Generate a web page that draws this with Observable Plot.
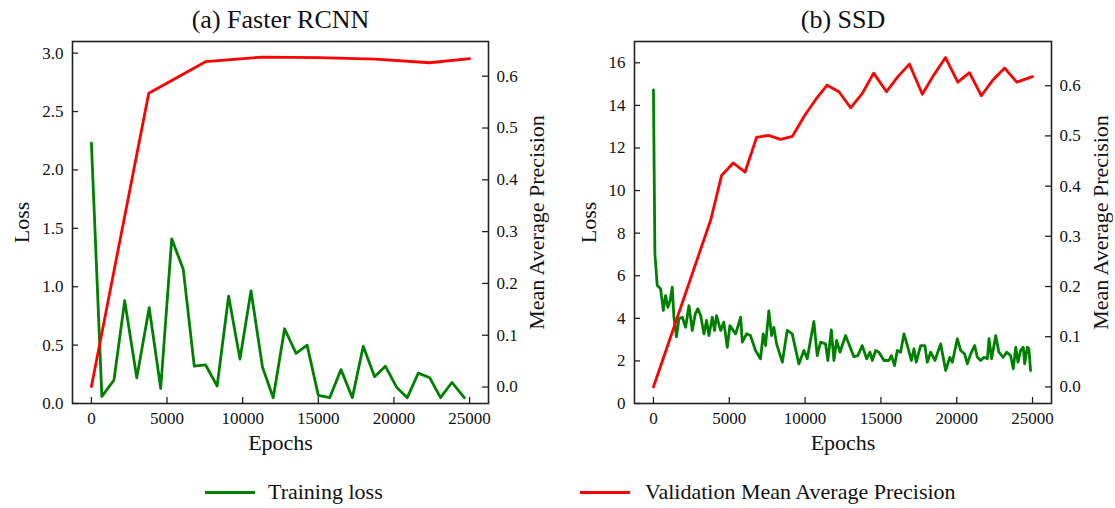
<!DOCTYPE html>
<html><head><meta charset="utf-8">
<script src="https://cdn.jsdelivr.net/npm/d3@7"></script>
<script src="https://cdn.jsdelivr.net/npm/@observablehq/plot@0.6"></script>
<style>
body{margin:0;background:#fff;width:1115px;height:508px;position:relative;overflow:hidden;font-family:"Liberation Serif","Times New Roman",serif;color:#111;}
.layer{position:absolute;top:0;}
.layer svg{font-family:"Liberation Serif","Times New Roman",serif !important;}
.sw{position:absolute;height:3px;}
.lt{position:absolute;font-size:22px;line-height:30px;height:30px;white-space:nowrap;}
</style></head><body>
<div id="root"></div>
<script>
// ---------- data ----------
const xTicks = [0, 5000, 10000, 15000, 20000, 25000];

// (a) Faster RCNN
const frcnnLossEpoch = [0, 690, 1490, 2200, 3000, 3820, 4580, 5310, 6070, 6800, 7550, 8310, 9070, 9820, 10550, 11310, 12020, 12770, 13530, 14260, 15000, 15750, 16500, 17250, 17970, 18720, 19430, 20170, 20880, 21610, 22370, 23080, 23830, 24650];
const frcnnLoss = [2.23, 0.06, 0.20, 0.88, 0.22, 0.82, 0.13, 1.41, 1.15, 0.32, 0.33, 0.15, 0.92, 0.38, 0.965, 0.31, 0.05, 0.64, 0.43, 0.50, 0.07, 0.05, 0.29, 0.05, 0.49, 0.23, 0.32, 0.14, 0.05, 0.26, 0.22, 0.05, 0.18, 0.05];
const frcnnMapEpoch = [0, 3790, 7545, 11300, 15050, 18800, 22350, 25000];
const frcnnMap = [0.001, 0.567, 0.628, 0.637, 0.636, 0.633, 0.626, 0.634];
const frcnnLossTicks = [0, 0.5, 1.0, 1.5, 2.0, 2.5, 3.0];

// (b) SSD
const ssdLossEpoch = [0, 95, 250, 470, 650, 800, 950, 1100, 1240, 1350, 1520, 1680, 1900, 2120, 2340, 2560, 2760, 2930, 3110, 3330, 3500, 3660, 3880, 4030, 4160, 4430, 4640, 4870, 5040, 5420, 5750, 5860, 6140, 6400, 6730, 7060, 7240, 7390, 7610, 7790, 7940, 8120, 8500, 8820, 9150, 9590, 9920, 10140, 10580, 10800, 11020, 11350, 11500, 11730, 11900, 12080, 12300, 12670, 13220, 13480, 13770, 14060, 14280, 14430, 14650, 14870, 15200, 15530, 15690, 15900, 16080, 16300, 16520, 16780, 17010, 17180, 17330, 17620, 17900, 18060, 18280, 18560, 18940, 19270, 19550, 19710, 20040, 20260, 20520, 20700, 20920, 21180, 21360, 21580, 21800, 22020, 22130, 22300, 22570, 22780, 23070, 23290, 23550, 23730, 23890, 24040, 24210, 24390, 24480, 24650, 24760, 24870];
const ssdLoss = [14.73, 7.03, 5.54, 5.39, 4.37, 5.07, 4.52, 4.84, 5.46, 4.05, 3.13, 3.98, 4.05, 3.58, 4.60, 3.43, 4.21, 4.45, 4.13, 3.27, 3.90, 3.19, 4.05, 3.43, 4.13, 3.43, 3.82, 2.64, 3.66, 3.27, 4.05, 2.88, 3.27, 3.19, 2.49, 2.10, 3.27, 2.72, 4.35, 3.19, 3.58, 2.80, 1.94, 3.43, 3.27, 1.86, 2.49, 2.10, 3.85, 2.25, 2.88, 2.80, 2.02, 3.46, 2.02, 2.96, 2.41, 3.19, 2.20, 2.25, 2.72, 2.10, 2.41, 2.02, 2.49, 2.41, 2.02, 2.02, 2.25, 1.78, 2.49, 2.41, 3.27, 2.64, 2.02, 2.57, 1.94, 2.72, 2.72, 1.94, 2.41, 2.02, 2.80, 1.55, 2.17, 1.94, 3.04, 2.49, 2.33, 1.86, 2.33, 2.72, 2.17, 2.02, 2.17, 2.10, 3.04, 2.10, 3.19, 2.41, 2.17, 2.41, 2.25, 1.63, 2.64, 1.94, 2.49, 2.64, 1.86, 2.64, 2.57, 1.55];
const ssdMapEpoch = [0, 3780, 4490, 5264, 6043, 6800, 7578, 8380, 9160, 9940, 10690, 11450, 12230, 13000, 13760, 14520, 15370, 16120, 16880, 17730, 18480, 19260, 20070, 20840, 21620, 22400, 23160, 23960, 25000];
const ssdMap = [0.0, 0.333, 0.421, 0.446, 0.428, 0.497, 0.501, 0.493, 0.499, 0.539, 0.572, 0.601, 0.588, 0.556, 0.584, 0.625, 0.588, 0.618, 0.643, 0.583, 0.621, 0.656, 0.607, 0.626, 0.580, 0.612, 0.635, 0.607, 0.618];
const ssdLossTicks = [0, 2, 4, 6, 8, 10, 12, 14, 16];

const mapTicks = [0.0, 0.1, 0.2, 0.3, 0.4, 0.5, 0.6];
const titles = ["(a) Faster RCNN", "(b) SSD"];
const xLabel = "Epochs", yLabel = "Loss", y2Label = "Mean Average Precision";
const legendLabels = ["Training loss", "Validation Mean Average Precision"];
const GREEN = "#008000", RED = "#ff0000";

// ---------- drawing ----------
const root = document.getElementById("root");
const H = 470, MT = 41, MB = 67;
const xDomain = [-1250, 26250];
const FONT = "'Liberation Serif', 'Times New Roman', serif";

function panel(o) {
  const frameW = o.width - o.ml - o.mr, frameH = H - MT - MB;
  const style = "background:transparent;font-family:'Liberation Serif','Times New Roman',serif;font-size:17px;color:#111;overflow:visible;";
  const common = {width: o.width, height: H, marginLeft: o.ml, marginRight: o.mr, marginTop: MT, marginBottom: MB, style};
  const lossRows = o.lossEpoch.map((e, i) => ({epoch: e, loss: o.loss[i]}));
  const mapRows = o.mapEpoch.map((e, i) => ({epoch: e, map: o.map[i]}));
  const back = Plot.plot({
    ...common,
    x: {domain: xDomain},
    y: {domain: o.lossDomain},
    marks: [
      Plot.line(lossRows, {x: "epoch", y: "loss", stroke: GREEN, strokeWidth: 2.8, strokeLinejoin: "round"}),
      Plot.axisX(xTicks, {tickSize: 0, tickPadding: 8, label: null, tickFormat: d => String(d), fontSize: 17, fontFamily: FONT}),
      Plot.tickX(xTicks, {x: d => d, insetTop: frameH - 6, stroke: "#222", strokeWidth: 1.3}),
      Plot.axisY(o.lossTicks, {anchor: "left", tickSize: 0, tickPadding: 9, label: null, tickFormat: o.lossFmt, fontSize: 17, fontFamily: FONT}),
      Plot.tickY(o.lossTicks, {y: d => d, insetRight: frameW - 6, stroke: "#222", strokeWidth: 1.3}),
      Plot.frame({stroke: "#222", strokeWidth: 1.6}),
      Plot.text([o.title], {text: d => d, frameAnchor: "top", lineAnchor: "middle", textAnchor: "middle", dy: -22, fontSize: 26, fontFamily: FONT}),
      Plot.text([xLabel], {text: d => d, frameAnchor: "bottom", lineAnchor: "middle", textAnchor: "middle", dy: 39, fontSize: 22, fontFamily: FONT}),
      Plot.text([yLabel], {text: d => d, frameAnchor: "left", lineAnchor: "middle", textAnchor: "middle", dx: o.lossLabelDx, rotate: -90, fontSize: 22, fontFamily: FONT})
    ]
  });
  const front = Plot.plot({
    ...common,
    x: {domain: xDomain, axis: null},
    y: {domain: o.mapDomain},
    marks: [
      Plot.line(mapRows, {x: "epoch", y: "map", stroke: RED, strokeWidth: 2.8, strokeLinejoin: "round"}),
      Plot.axisY(mapTicks, {anchor: "right", tickSize: 0, tickPadding: 8, label: null, tickFormat: d => d.toFixed(1), fontSize: 17, fontFamily: FONT}),
      Plot.tickY(mapTicks, {y: d => d, insetLeft: frameW - 6, stroke: "#222", strokeWidth: 1.3}),
      Plot.text([y2Label], {text: d => d, frameAnchor: "right", lineAnchor: "middle", textAnchor: "middle", dx: o.mapLabelDx, rotate: -90, fontSize: 22, fontFamily: FONT})
    ]
  });
  for (const svg of [back, front]) {
    const d = document.createElement("div");
    d.className = "layer";
    d.style.left = o.left + "px";
    d.style.width = o.width + "px";
    d.appendChild(svg);
    root.appendChild(d);
  }
}

panel({left: 0, width: 557, ml: 72, mr: 69, title: titles[0],
  lossEpoch: frcnnLossEpoch, loss: frcnnLoss, mapEpoch: frcnnMapEpoch, map: frcnnMap,
  lossDomain: [0, 3.1], mapDomain: [-0.0318, 0.667], lossTicks: frcnnLossTicks, lossFmt: d => d.toFixed(1),
  lossLabelDx: -51, mapLabelDx: 48});
panel({left: 557, width: 558, ml: 77, mr: 64, title: titles[1],
  lossEpoch: ssdLossEpoch, loss: ssdLoss, mapEpoch: ssdMapEpoch, map: ssdMap,
  lossDomain: [0, 17], mapDomain: [-0.033, 0.688], lossTicks: ssdLossTicks, lossFmt: d => String(d),
  lossLabelDx: -46, mapLabelDx: 49});

// legend
const legend = [
  {color: GREEN, x0: 205, tx: 268, label: legendLabels[0]},
  {color: RED, x0: 580, tx: 645, label: legendLabels[1]}
];
for (const l of legend) {
  const s = document.createElement("div");
  s.className = "sw"; s.style.left = l.x0 + "px"; s.style.top = "491px"; s.style.width = "50px"; s.style.background = l.color;
  root.appendChild(s);
  const t = document.createElement("div");
  t.className = "lt"; t.style.left = l.tx + "px"; t.style.top = "477px"; t.textContent = l.label;
  root.appendChild(t);
}
</script></body></html>
